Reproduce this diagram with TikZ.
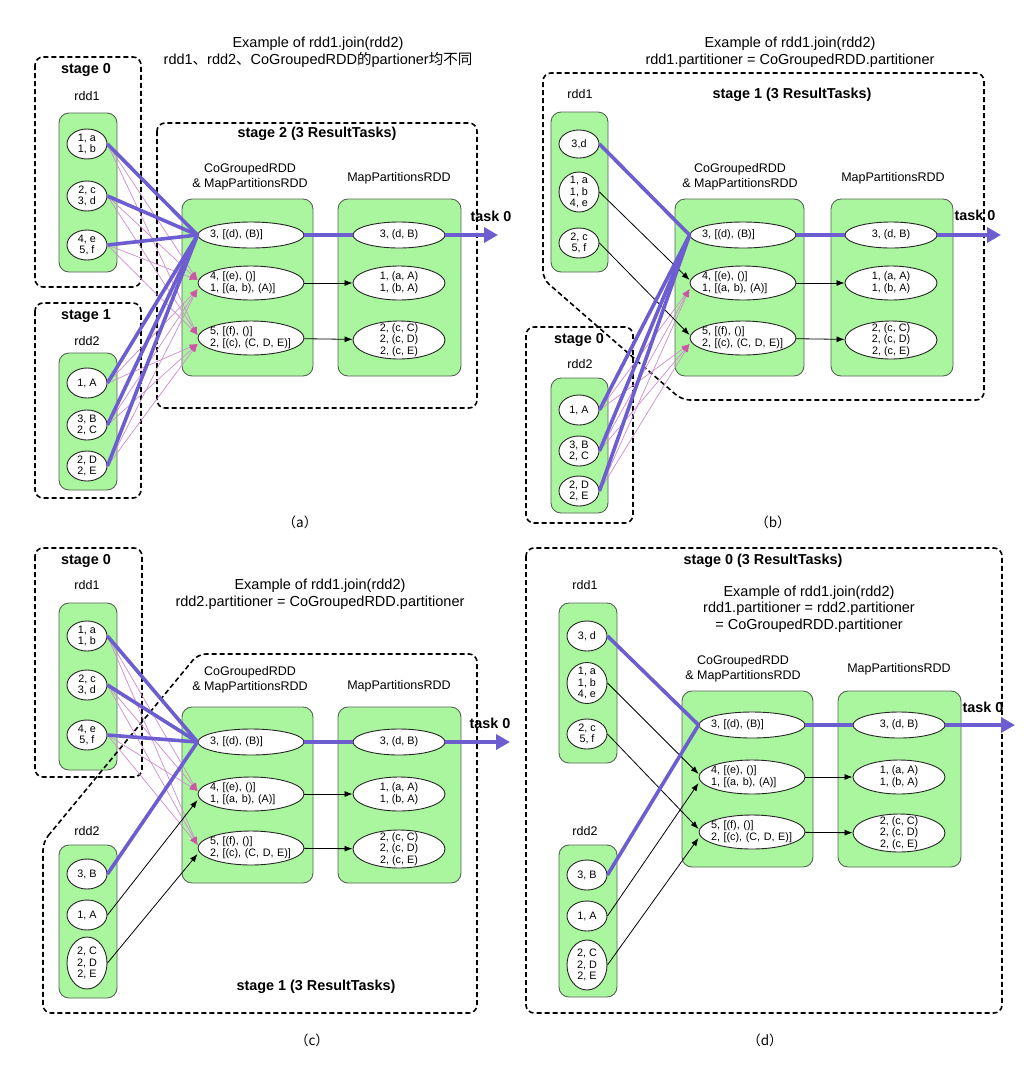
\documentclass[tikz,border=0pt]{standalone}
\usepackage{fontspec}
\setmainfont{Liberation Sans}
\newfontfamily\cjk{Noto Sans CJK SC}
\usepackage{xcolor}
\definecolor{rddgreen}{RGB}{170,246,158}
\definecolor{boxedge}{RGB}{85,100,85}
\definecolor{taskpurple}{RGB}{108,94,208}
\definecolor{shufpink}{RGB}{205,140,205}
\definecolor{arrowpink}{RGB}{205,85,165}
\usetikzlibrary{arrows.meta, shapes.geometric}

\tikzset{
  stagebox/.style={draw=black, line width=1.6pt, dash pattern=on 5pt off 3pt, rounded corners=8pt},
  rddbox/.style={draw=boxedge, fill=rddgreen, line width=0.9pt, rounded corners=10pt},
  part/.style={ellipse, draw=black!85, fill=white, line width=0.9pt, inner xsep=0pt, inner ysep=-5pt,
    minimum width=40pt, minimum height=30pt, align=center, font=\fontsize{10.8}{11.8}\selectfont},
  cgpart/.style={part, minimum width=106pt, minimum height=34pt, inner xsep=-4pt, text width=82pt, align=left},
  mppart/.style={part, minimum width=92pt, minimum height=34pt},
  stagelabel/.style={font=\fontsize{14.4}{16}\selectfont\bfseries},
  rddlabel/.style={font=\fontsize{12.5}{14.5}\selectfont, align=center},
  titletext/.style={font=\fontsize{14.5}{16.5}\selectfont, align=center},
  sublabel/.style={font=\cjk\fontsize{13.5}{15}\selectfont},
  hot/.style={draw=taskpurple, line width=3.6pt},
  taskarrow/.style={hot, -{Triangle[length=14pt,width=15pt]}},
  shuf/.style={draw=shufpink, line width=0.7pt, -{Latex[length=8pt,width=6pt,color=arrowpink]}},
  narrow/.style={draw=black, line width=0.8pt, -{Latex[length=8pt,width=6pt]}},
}

\begin{document}
\begin{tikzpicture}[x=1pt, y=-1pt]
\useasboundingbox (0,0) rectangle (1024,1072);

% ================= (a) all partitioners differ =================
\node[titletext] (atitle) at (318,52) {Example of rdd1.join(rdd2)\\rdd1{\cjk 、}rdd2{\cjk 、}CoGroupedRDD{\cjk 的}partioner{\cjk 均不同}};
% stage 0: rdd1
\draw[stagebox] (35,57) rectangle (141,287);
\node[stagelabel] (astage0) at (86,70) {stage 0};
\node[rddlabel] (ardd1) at (87,96) {rdd1};
\draw[rddbox] (59,113) rectangle (117,272);
\node[part] (a11) at (87,144) {1, a\\1, b};
\node[part] (a12) at (87,196) {2, c\\3, d};
\node[part] (a13) at (87,245) {4, e\\5, f};
% stage 1: rdd2
\draw[stagebox] (35,303) rectangle (141,498);
\node[stagelabel] (astage1) at (86,316) {stage 1};
\node[rddlabel] (ardd2) at (87,341) {rdd2};
\draw[rddbox] (59,353) rectangle (117,490);
\node[part] (a21) at (87,383) {1, A};
\node[part] (a22) at (87,425) {3, B\\2, C};
\node[part] (a23) at (87,466) {2, D\\2, E};
% stage 2: result tasks
\draw[stagebox] (157,123) rectangle (477,408);
\node[stagelabel] (astage2) at (317,134) {stage 2 (3 ResultTasks)};
\node[rddlabel] (acglabel) at (250,177) {CoGroupedRDD\\\& MapPartitionsRDD};
\draw[rddbox] (182,199) rectangle (313,376);
\node[cgpart, minimum height=26pt] (acg1) at (251,235) {3, [(d), (B)]};
\node[cgpart] (acg2) at (251,283) {4, [(e), ()]\\1, [(a, b), (A)]};
\node[cgpart] (acg3) at (251,338) {5, [(f), ()]\\2, [(c), (C, D, E)]};
\node[rddlabel] (amplabel) at (399,178) {MapPartitionsRDD};
\draw[rddbox] (338,199) rectangle (461,376);
\node[mppart, minimum height=26pt] (amp1) at (399,235) {3, (d, B)};
\node[mppart] (amp2) at (399,283) {1, (a, A)\\1, (b, A)};
\node[mppart, minimum height=38pt] (amp3) at (399,340) {2, (c, C)\\2, (c, D)\\2, (c, E)};
\node[stagelabel] (atask) at (491,216) {task 0};
\coordinate (aout) at (498,235);
% shuffle dependencies
\path (a11.east) edge[shuf] ([yshift=3pt]acg2.west) edge[shuf] ([yshift=3pt]acg3.west);
\path (a12.east) edge[shuf] ([yshift=3pt]acg2.west) edge[shuf] ([yshift=3pt]acg3.west);
\path (a13.east) edge[shuf] ([yshift=3pt]acg2.west) edge[shuf] ([yshift=3pt]acg3.west);
\path (a21.east) edge[shuf] ([yshift=-6pt]acg2.west) edge[shuf] ([yshift=-6pt]acg3.west);
\path (a22.east) edge[shuf] ([yshift=-6pt]acg2.west) edge[shuf] ([yshift=-6pt]acg3.west);
\path (a23.east) edge[shuf] ([yshift=-6pt]acg2.west) edge[shuf] ([yshift=-6pt]acg3.west);
\draw[hot] (a11.east) -- (acg1.west);
\draw[hot] (a12.east) -- (acg1.west);
\draw[hot] (a13.east) -- (acg1.west);
\draw[hot] (a21.east) -- (acg1.west);
\draw[hot] (a22.east) -- (acg1.west);
\draw[hot] (a23.east) -- (acg1.west);
\draw[hot] (acg1) -- (amp1);
\draw[taskarrow] (amp1) -- (aout);
\draw[narrow] (acg2) -- (amp2);
\draw[narrow] (acg3) -- (amp3);
\node[sublabel] (acap) at (300,522) {（a）};

% ================= (b) rdd1 shares the partitioner =================
\node[titletext] (btitle) at (790,52) {Example of rdd1.join(rdd2)\\rdd1.partitioner = CoGroupedRDD.partitioner};
% stage 1: rdd1 + result tasks
\draw[stagebox] (543,279) -- (543,73) -- (984,73) -- (984,400) -- (682,400) -- cycle;
\node[stagelabel] (bstage1) at (792,95) {stage 1 (3 ResultTasks)};
\node[rddlabel] (brdd1) at (580,94) {rdd1};
\draw[rddbox] (551,112) rectangle (608,272);
\node[part, minimum height=28pt] (b11) at (579,144) {3,d};
\node[part, minimum height=40pt] (b12) at (579,192) {1, a\\1, b\\4, e};
\node[part] (b13) at (579,243) {2, c\\5, f};
\node[rddlabel] (bcglabel) at (740,177) {CoGroupedRDD\\\& MapPartitionsRDD};
\draw[rddbox] (675,199) rectangle (804,376);
\node[cgpart, minimum height=26pt] (bcg1) at (743,235) {3, [(d), (B)]};
\node[cgpart] (bcg2) at (743,283) {4, [(e), ()]\\1, [(a, b), (A)]};
\node[cgpart] (bcg3) at (743,338) {5, [(f), ()]\\2, [(c), (C, D, E)]};
\node[rddlabel] (bmplabel) at (893,178) {MapPartitionsRDD};
\draw[rddbox] (831,199) rectangle (953,376);
\node[mppart, minimum height=26pt] (bmp1) at (891,235) {3, (d, B)};
\node[mppart] (bmp2) at (891,283) {1, (a, A)\\1, (b, A)};
\node[mppart, minimum height=38pt] (bmp3) at (891,340) {2, (c, C)\\2, (c, D)\\2, (c, E)};
\node[stagelabel] (btask) at (975,215) {task 0};
\coordinate (bout) at (1001,235);
% stage 0: rdd2
\draw[stagebox] (526,327) rectangle (633,523);
\node[stagelabel] (bstage0) at (579,340) {stage 0};
\node[rddlabel] (brdd2) at (580,364) {rdd2};
\draw[rddbox] (551,378) rectangle (608,513);
\node[part] (b21) at (579,410) {1, A};
\node[part] (b22) at (579,451) {3, B\\2, C};
\node[part] (b23) at (579,491) {2, D\\2, E};
% dependencies
\path (b21.east) edge[shuf] ([yshift=-6pt]bcg2.west) edge[shuf] ([yshift=-6pt]bcg3.west);
\path (b22.east) edge[shuf] ([yshift=-6pt]bcg2.west) edge[shuf] ([yshift=-6pt]bcg3.west);
\path (b23.east) edge[shuf] ([yshift=-6pt]bcg2.west) edge[shuf] ([yshift=-6pt]bcg3.west);
\draw[narrow] (b12.east) -- ([yshift=3pt]bcg2.west);
\draw[narrow] (b13.east) -- ([yshift=3pt]bcg3.west);
\draw[hot] (b11.east) -- (bcg1.west);
\draw[hot] (b21.east) -- (bcg1.west);
\draw[hot] (b22.east) -- (bcg1.west);
\draw[hot] (b23.east) -- (bcg1.west);
\draw[hot] (bcg1) -- (bmp1);
\draw[taskarrow] (bmp1) -- (bout);
\draw[narrow] (bcg2) -- (bmp2);
\draw[narrow] (bcg3) -- (bmp3);
\node[sublabel] (bcap) at (773,522) {（b）};

% ================= (c) rdd2 shares the partitioner =================
\node[titletext] (ctitle) at (320,594) {Example of rdd1.join(rdd2)\\rdd2.partitioner = CoGroupedRDD.partitioner};
% stage 0: rdd1
\draw[stagebox] (35,548) rectangle (142,777);
\node[stagelabel] (cstage0) at (86,561) {stage 0};
\node[rddlabel] (crdd1) at (87,585) {rdd1};
\draw[rddbox] (59,603) rectangle (117,770);
\node[part] (c11) at (87,636) {1, a\\1, b};
\node[part] (c12) at (87,685) {2, c\\3, d};
\node[part] (c13) at (87,735) {4, e\\5, f};
% stage 1: rdd2 + result tasks
\draw[stagebox] (43,842) -- (198,654) -- (477,654) -- (477,1013) -- (43,1013) -- cycle;
\node[stagelabel] (cstage1) at (316,987) {stage 1 (3 ResultTasks)};
\node[rddlabel] (ccglabel) at (250,680) {CoGroupedRDD\\\& MapPartitionsRDD};
\draw[rddbox] (182,707) rectangle (313,883);
\node[cgpart, minimum height=26pt] (ccg1) at (251,742) {3, [(d), (B)]};
\node[cgpart] (ccg2) at (251,794) {4, [(e), ()]\\1, [(a, b), (A)]};
\node[cgpart] (ccg3) at (251,848) {5, [(f), ()]\\2, [(c), (C, D, E)]};
\node[rddlabel] (cmplabel) at (399,686) {MapPartitionsRDD};
\draw[rddbox] (338,707) rectangle (461,883);
\node[mppart, minimum height=26pt] (cmp1) at (399,742) {3, (d, B)};
\node[mppart] (cmp2) at (399,794) {1, (a, A)\\1, (b, A)};
\node[mppart, minimum height=38pt] (cmp3) at (399,849) {2, (c, C)\\2, (c, D)\\2, (c, E)};
\node[stagelabel] (ctask) at (490,723) {task 0};
\coordinate (cout) at (510,742);
\node[rddlabel] (crdd2) at (87,831) {rdd2};
\draw[rddbox] (59,845) rectangle (117,998);
\node[part] (c21) at (87,874) {3, B};
\node[part] (c22) at (87,915) {1, A};
\node[part, minimum height=52pt] (c23) at (87,963) {2, C\\2, D\\2, E};
% dependencies
\path (c11.east) edge[shuf] ([yshift=3pt]ccg2.west) edge[shuf] ([yshift=3pt]ccg3.west);
\path (c12.east) edge[shuf] ([yshift=3pt]ccg2.west) edge[shuf] ([yshift=3pt]ccg3.west);
\path (c13.east) edge[shuf] ([yshift=3pt]ccg2.west) edge[shuf] ([yshift=3pt]ccg3.west);
\draw[narrow] (c22.east) -- ([yshift=-6pt]ccg2.west);
\draw[narrow] (c23.east) -- ([yshift=-6pt]ccg3.west);
\draw[hot] (c11.east) -- (ccg1.west);
\draw[hot] (c12.east) -- (ccg1.west);
\draw[hot] (c13.east) -- (ccg1.west);
\draw[hot] (c21.east) -- (ccg1.west);
\draw[hot] (ccg1) -- (cmp1);
\draw[taskarrow] (cmp1) -- (cout);
\draw[narrow] (ccg2) -- (cmp2);
\draw[narrow] (ccg3) -- (cmp3);
\node[sublabel] (ccap) at (312,1040) {（c）};

% ================= (d) all share the partitioner =================
\draw[stagebox] (526,548) rectangle (1002,1013);
\node[stagelabel] (dstage0) at (763,561) {stage 0 (3 ResultTasks)};
\node[titletext] (dtitle) at (809,609) {Example of rdd1.join(rdd2)\\rdd1.partitioner = rdd2.partitioner\\= CoGroupedRDD.partitioner};
\node[rddlabel] (drdd1) at (585,585) {rdd1};
\draw[rddbox] (559,603) rectangle (617,763);
\node[part] (d11) at (587,636) {3, d};
\node[part, minimum height=41pt] (d12) at (587,683) {1, a\\1, b\\4, e};
\node[part] (d13) at (587,734) {2, c\\5, f};
\node[rddlabel] (dcglabel) at (743,669) {CoGroupedRDD\\\& MapPartitionsRDD};
\draw[rddbox] (682,691) rectangle (813,867);
\node[cgpart, minimum height=26pt] (dcg1) at (752,725) {3, [(d), (B)]};
\node[cgpart] (dcg2) at (752,777) {4, [(e), ()]\\1, [(a, b), (A)]};
\node[cgpart] (dcg3) at (752,832) {5, [(f), ()]\\2, [(c), (C, D, E)]};
\node[rddlabel] (dmplabel) at (899,669) {MapPartitionsRDD};
\draw[rddbox] (838,691) rectangle (961,867);
\node[mppart, minimum height=26pt] (dmp1) at (899,725) {3, (d, B)};
\node[mppart] (dmp2) at (899,777) {1, (a, A)\\1, (b, A)};
\node[mppart, minimum height=38pt] (dmp3) at (899,833) {2, (c, C)\\2, (c, D)\\2, (c, E)};
\node[stagelabel] (dtask) at (983,707) {task 0};
\coordinate (dout) at (1015,725);
\node[rddlabel] (drdd2) at (585,831) {rdd2};
\draw[rddbox] (559,845) rectangle (617,997);
\node[part] (d21) at (587,875) {3, B};
\node[part] (d22) at (587,916) {1, A};
\node[part, minimum height=50pt] (d23) at (587,965) {2, C\\2, D\\2, E};
% dependencies
\draw[narrow] (d12.east) -- ([yshift=3pt]dcg2.west);
\draw[narrow] (d13.east) -- ([yshift=3pt]dcg3.west);
\draw[narrow] (d22.east) -- ([yshift=-6pt]dcg2.west);
\draw[narrow] (d23.east) -- ([yshift=-6pt]dcg3.west);
\draw[hot] (d11.east) -- (dcg1.west);
\draw[hot] (d21.east) -- (dcg1.west);
\draw[hot] (dcg1) -- (dmp1);
\draw[taskarrow] (dmp1) -- (dout);
\draw[narrow] (dcg2) -- (dmp2);
\draw[narrow] (dcg3) -- (dmp3);
\node[sublabel] (dcap) at (765,1040) {（d）};
\end{tikzpicture}
\end{document}
